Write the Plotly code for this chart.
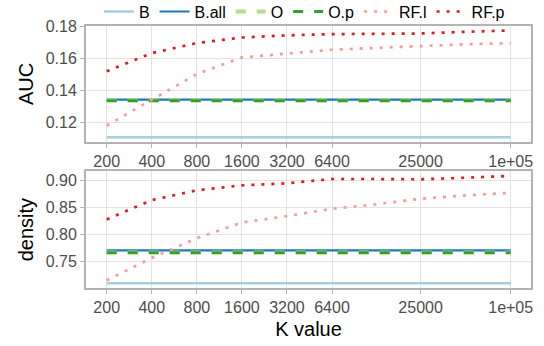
import plotly.graph_objects as go
from plotly.subplots import make_subplots

K = [200, 400, 800, 1600, 3200, 6400, 12800, 25000, 50000, 100000]

# AUC panel
auc_B = 0.1106
auc_Ball = 0.1341
auc_O = 0.1335
auc_Op = 0.1335
auc_RFl = [0.1179, 0.1341, 0.1502, 0.1606, 0.1631, 0.1654, 0.1666, 0.1679, 0.1688, 0.1696]
auc_RFp = [0.1519, 0.1633, 0.1696, 0.1731, 0.1744, 0.1752, 0.1754, 0.1756, 0.1767, 0.1775]

# density panel
den_B = 0.710
den_Ball = 0.7707
den_O = 0.7667
den_Op = 0.7667
den_RFl = [0.7155, 0.7568, 0.7931, 0.8222, 0.8339, 0.8474, 0.8560, 0.8659, 0.8722, 0.8770]
den_RFp = [0.8278, 0.8635, 0.8815, 0.8907, 0.8944, 0.9024, 0.9024, 0.9018, 0.9048, 0.9080]

tickvals = [200, 400, 800, 1600, 3200, 6400, 25000, 100000]
ticktext = ["200", "400", "800", "1600", "3200", "6400", "25000", "1e+05"]

names = ["B", "B.all", "O", "O.p", "RF.l", "RF.p"]
colors = ["#a6cee3", "#1f78b4", "#b2df8a", "#33a02c", "#fb9a99", "#e31a1c"]
dashes = ["solid", "solid", "10px,11px", "10px,11px", "3px,7px", "3px,7px"]
widths = [2.6, 2.2, 4.2, 2.8, 2.7, 2.7]

fig = make_subplots(rows=2, cols=1, shared_xaxes=False, vertical_spacing=0.11)

panels = [
    (1, [auc_B, auc_Ball, auc_O, auc_Op, auc_RFl, auc_RFp]),
    (2, [den_B, den_Ball, den_O, den_Op, den_RFl, den_RFp]),
]
for row, vals in panels:
    for i, (nm, v) in enumerate(zip(names, vals)):
        y = v if isinstance(v, list) else [v] * len(K)
        fig.add_trace(go.Scatter(
            x=K, y=y, mode="lines", name=nm,
            line=dict(color=colors[i], dash=dashes[i], width=widths[i]),
            showlegend=(row == 1), legendgroup=nm,
        ), row=row, col=1)

axis_common = dict(
    type="log", range=[2.1627, 5.1356], tickvals=tickvals, ticktext=ticktext,
    showgrid=True, gridcolor="#e3e3e3", gridwidth=1.2,
    showline=True, linecolor="#b3b3b3", linewidth=2, mirror=True,
    ticks="outside", ticklen=4, tickcolor="#b3b3b3", tickwidth=1,
    tickfont=dict(size=16, color="#4d4d4d"), zeroline=False, automargin=False,
)
fig.update_xaxes(**axis_common)
fig.update_xaxes(row=2, col=1, title=dict(text="K value", font=dict(size=20, color="black"), standoff=7))

yax_common = dict(
    showgrid=True, gridcolor="#e3e3e3", gridwidth=1.2,
    showline=True, linecolor="#b3b3b3", linewidth=2, mirror=True,
    ticks="outside", ticklen=4, tickcolor="#b3b3b3", tickwidth=1,
    tickfont=dict(size=16, color="#4d4d4d"), zeroline=False, automargin=False,
)
fig.update_yaxes(**yax_common)
fig.update_yaxes(row=1, col=1, range=[0.1077, 0.1803], tickvals=[0.12, 0.14, 0.16, 0.18],
                 ticktext=["0.12", "0.14", "0.16", "0.18"],
                 title=dict(text="AUC", font=dict(size=20, color="black"), standoff=7),
                 domain=[0.558, 1.0])
fig.update_yaxes(row=2, col=1, range=[0.7013, 0.9166], tickvals=[0.75, 0.80, 0.85, 0.90],
                 ticktext=["0.75", "0.80", "0.85", "0.90"],
                 title=dict(text="density", font=dict(size=20, color="black"), standoff=7),
                 domain=[0.0, 0.4454])

fig.update_layout(
    width=544, height=346,
    margin=dict(l=86, r=13, t=26, b=58, autoexpand=False),
    paper_bgcolor="white", plot_bgcolor="white",
    font=dict(family="Liberation Sans, Arial, sans-serif", size=16, color="black"),
    legend=dict(orientation="h", x=0.029, xanchor="left", y=1.055, yanchor="middle",
                font=dict(size=16), bgcolor="rgba(0,0,0,0)", tracegroupgap=0),
)

fig.write_html("out.html", config={"displayModeBar": False},
               post_script="document.body.style.margin='0';")
